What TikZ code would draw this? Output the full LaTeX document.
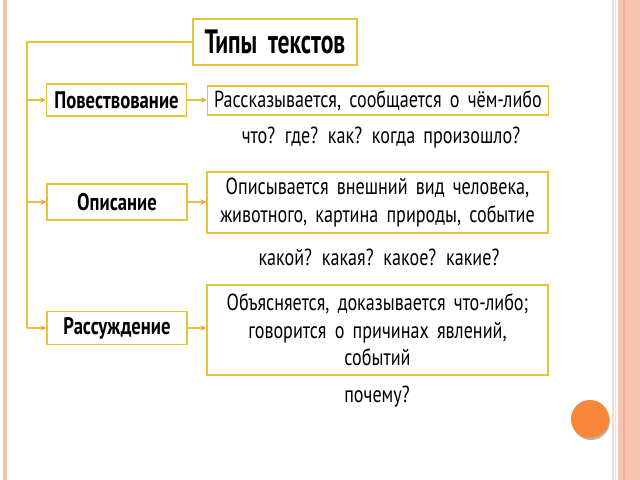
\documentclass[tikz,border=0pt]{standalone}
\usepackage{fontspec}
\setmainfont{PT Sans}[FakeStretch=0.78,WordSpace=1.7]
\newfontfamily\titlefont{PT Sans}[FakeStretch=0.7,WordSpace=1.8]
\usetikzlibrary{arrows.meta}
\definecolor{boxline}{HTML}{E6C43A}
\definecolor{arrowtip}{HTML}{E9A53C}
\definecolor{framepink}{HTML}{F6C3B3}
\definecolor{framedark}{HTML}{EFAE98}
\definecolor{dotorange}{HTML}{F8873A}
\tikzset{
  typebox/.style={draw=boxline, line width=1.2pt, fill=white, align=center, inner sep=2pt},
  bodytext/.style={font=\fontsize{16.5}{19.5}\selectfont},
  kindbox/.style={typebox, minimum width=3.5cm, minimum height=0.8cm, font=\bfseries\fontsize{17}{19.5}\selectfont},
  infobox/.style={typebox, bodytext, minimum width=8.525cm},
  question/.style={bodytext, align=center},
  trunk/.style={draw=boxline, line width=1.2pt},
  feed/.style={draw=boxline, line width=1.2pt, -{Stealth[length=4pt,width=4pt,color=arrowtip]}}
}
\begin{document}
\begin{tikzpicture}[x=0.025cm, y=-0.025cm]
  \useasboundingbox (0,0) rectangle (640,480);
  \fill[white] (0,0) rectangle (640,480);
  % slide frame
  \fill[framepink] (3,0) rectangle (7,480);
  \fill[framepink!70] (612,0) rectangle (613.5,480);
  \fill[framepink!60] (614.5,0) rectangle (616,480);
  \fill[framepink] (618,0) rectangle (640,480);
  \fill[framedark] (622.5,0) rectangle (625,480);
  \fill[gray!70!brown, opacity=0.6] (591,421) circle (19);
  \fill[dotorange] (590,419) circle (19);

  \node[typebox, minimum width=4.1cm, minimum height=1.15cm, font=\titlefont\bfseries\fontsize{24}{26}\selectfont] (title) at (275,42) {Типы текстов};

  \node[kindbox] (pov) at (116.5,100) {Повествование};
  \node[kindbox, minimum height=0.9cm] (opis) at (117,202) {Описание};
  \node[kindbox, minimum height=0.83cm] (reas) at (117,328) {Рассуждение};

  \node[infobox, minimum height=0.73cm] (povtext) at (378,100.5) {Рассказывается, сообщается о чём-либо};
  \node[infobox, minimum height=1.53cm] (opistext) at (377.5,202.5) {Описывается внешний вид человека,\\животного, картина природы, событие};
  \node[infobox, minimum height=2.25cm] (reastext) at (377.5,330) {Объясняется, доказывается что-либо;\\говорится о причинах явлений,\\событий};

  \node[question] (povq) at (381,138) {что? где? как? когда произошло?};
  \node[question] (opisq) at (379,257) {какой? какая? какое? какие?};
  \node[question] (reasq) at (377,397) {почему?};

  \coordinate (top) at (27,42);
  \draw[trunk] (title.west) -- (top) -- (top |- reas.west);
  \draw[feed] (top |- pov.west) -- (pov.west);
  \draw[feed] (top |- opis.west) -- (opis.west);
  \draw[feed] (top |- reas.west) -- (reas.west);
  \draw[feed] (pov.east) -- (pov.east -| povtext.west);
  \draw[feed] (opis.east) -- (opis.east -| opistext.west);
  \draw[feed] (reas.east) -- (reas.east -| reastext.west);
\end{tikzpicture}
\end{document}
